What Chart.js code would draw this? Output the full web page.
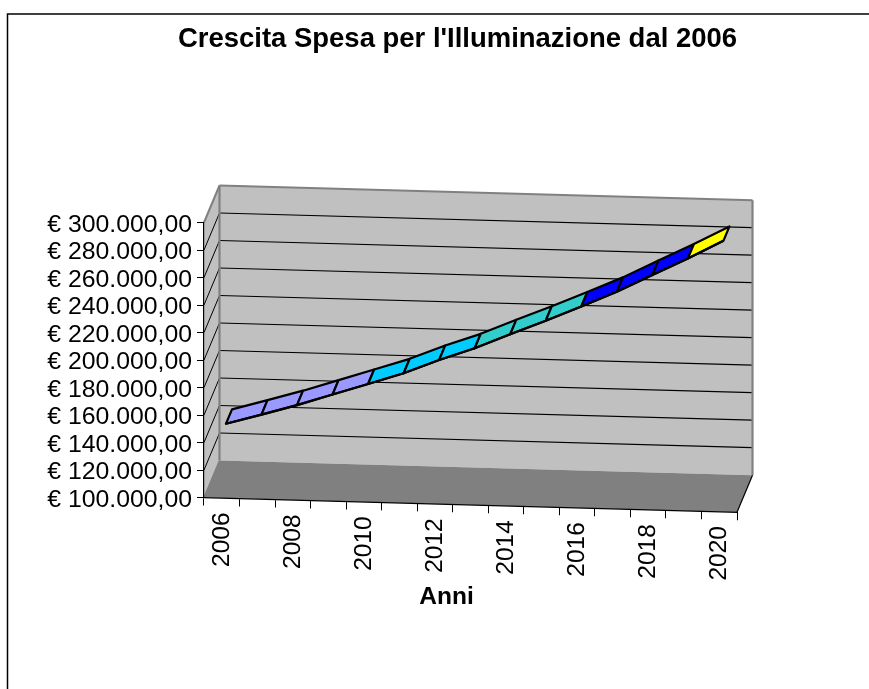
<!DOCTYPE html>
<html>
<head>
<meta charset="utf-8">
<style>html,body{margin:0;padding:0;background:#fff;overflow:hidden}canvas{display:block}</style>
<script src="https://cdn.jsdelivr.net/npm/chart.js@4"></script>
</head>
<body>
<canvas id="c" width="869" height="689"></canvas>
<script>
const categories = ['2006','2007','2008','2009','2010','2011','2012','2013','2014','2015','2016','2017','2018','2019','2020'];
const spesa = [146700,154100,161700,170100,178500,187000,197400,206600,217500,228100,239100,250500,263400,276200,289700];
const segmentColors = ['#9999FF','#9999FF','#9999FF','#9999FF','#00CCFF','#00CCFF','#00CCFF','#33CCCC','#33CCCC','#33CCCC','#0000FF','#0000FF','#0000FF','#FFFF00'];
const yMin = 100000, yMax = 300000, yStep = 20000;
const titleText = "Crescita Spesa per l'Illuminazione dal 2006";
const xTitleText = 'Anni';

// oblique projection used by the 3D look
const SKEW = 0.0275, DEPTH_X = 15.5, DEPTH_Y = -37;
const RIBBON_FRONT = 0.27, RIBBON_BACK = 0.66;

function euro(v){
  const s = String(Math.round(v)).replace(/\B(?=(\d{3})+$)/g,'.');
  return '€ ' + s + ',00';
}

class SkewCategoryScale extends Chart.CategoryScale {
  _layers(){
    const self = this;
    return super._layers().map(l => ({
      z: l.z,
      draw(area){
        const c = self.ctx;
        c.save();
        c.transform(1, SKEW, 0, 1, 0, -SKEW * self.left);
        l.draw(area);
        c.restore();
      }
    }));
  }
  drawTitle(){
    const c = this.ctx;
    c.save();
    c.setTransform(1,0,0,1,-24,0);
    super.drawTitle();
    c.restore();
  }
}
SkewCategoryScale.id = 'skewCategory';
SkewCategoryScale.defaults = {};
Chart.register(SkewCategoryScale);

function poly(c, pts, fill, stroke, lw){
  c.beginPath();
  pts.forEach((p,i)=> i ? c.lineTo(p[0],p[1]) : c.moveTo(p[0],p[1]));
  c.closePath();
  if (fill){ c.fillStyle = fill; c.fill(); }
  if (stroke){ c.strokeStyle = stroke; c.lineWidth = lw; c.lineJoin='round'; c.stroke(); }
}
function line(c, a, b, stroke, lw){
  c.beginPath(); c.moveTo(a[0],a[1]); c.lineTo(b[0],b[1]);
  c.strokeStyle = stroke; c.lineWidth = lw; c.stroke();
}

const walls = {
  id: 'walls',
  beforeDraw(chart){
    const c = chart.ctx, a = chart.chartArea, ys = chart.scales.y;
    const sk = x => SKEW * (x - a.left);
    const FL = [a.left, a.bottom], FR = [a.right, a.bottom + sk(a.right)];
    const BL = [a.left + DEPTH_X, a.bottom + DEPTH_Y];
    const BR = [a.right + DEPTH_X, FR[1] + DEPTH_Y];
    const TL = [a.left + DEPTH_X, a.top + DEPTH_Y];
    const TR = [a.right + DEPTH_X, a.top + sk(a.right) + DEPTH_Y];
    const SL = [a.left, a.top];
    c.save();
    // outer frame
    c.strokeStyle = '#000'; c.lineWidth = 1.5;
    c.beginPath(); c.moveTo(7.5, chart.height); c.lineTo(7.5, 14); c.lineTo(chart.width, 14); c.stroke();
    // side wall, back wall, floor
    poly(c, [SL, TL, BL, FL], '#C0C0C0');
    poly(c, [TL, TR, BR, BL], '#C0C0C0');
    poly(c, [FL, BL, BR, FR], '#808080');
    // gridlines
    ys.ticks.forEach((t,i)=>{
      if (t.value === yMin || t.value === yMax) return;
      const y = ys.getPixelForTick(i);
      line(c, [a.left, y], [a.left + DEPTH_X, y + DEPTH_Y], '#000', 1);
      line(c, [a.left + DEPTH_X, y + DEPTH_Y], [a.right + DEPTH_X, y + DEPTH_Y + sk(a.right)], '#000', 1.2);
    });
    // wall edges
    line(c, SL, TL, '#808080', 2);
    line(c, TL, TR, '#808080', 2);
    line(c, TR, BR, '#808080', 2.2);
    line(c, TL, BL, '#808080', 2.2);
    line(c, FL, BL, '#808080', 1.5);
    line(c, FR, BR, '#000', 1.2);
    c.restore();
  },
  beforeDatasetsDraw(chart){
    const c = chart.ctx, a = chart.chartArea;
    const pts = chart.getDatasetMeta(0).data;
    const P = (pt, f) => [pt.x + f*DEPTH_X, pt.y + SKEW*(pt.x - a.left) + f*DEPTH_Y];
    c.save();
    for (let i = 0; i < pts.length - 1; i++){
      poly(c, [P(pts[i],RIBBON_FRONT), P(pts[i],RIBBON_BACK), P(pts[i+1],RIBBON_BACK), P(pts[i+1],RIBBON_FRONT)],
           segmentColors[i], '#000', 2.2);
    }
    c.restore();
  },
  beforeDatasetDraw(chart){
    const c = chart.ctx, a = chart.chartArea;
    c.save();
    c.transform(1, SKEW, 0, 1, RIBBON_FRONT*DEPTH_X, -SKEW*a.left + RIBBON_FRONT*DEPTH_Y);
  },
  afterDatasetDraw(chart){ chart.ctx.restore(); }
};

new Chart(document.getElementById('c'), {
  type: 'line',
  data: {
    labels: categories,
    datasets: [{
      label: 'Spesa',
      data: spesa,
      borderColor: '#000',
      borderWidth: 2.2,
      pointRadius: 0,
      tension: 0,
      fill: false,
      clip: false
    }]
  },
  options: {
    responsive: false,
    animation: false,
    devicePixelRatio: 1,
    layout: { padding: { left: 178, right: 132, top: 0, bottom: 77.5 } },
    plugins: {
      legend: { display: false },
      tooltip: { enabled: false },
      title: {
        display: true,
        text: titleText,
        color: '#000',
        font: { family: '"Liberation Sans", Arial, sans-serif', size: 28.5, weight: 'bold', lineHeight: 1.2 },
        padding: { top: 21.9, bottom: 166.4 }
      }
    },
    scales: {
      x: {
        type: 'skewCategory',
        axis: 'x',
        offset: true,
        afterFit(s){ s.height = 114; },
        grid: { display: true, drawOnChartArea: false, offset: true, tickLength: 8, color: '#000', lineWidth: 1 },
        border: { display: true, color: '#000', width: 1.2 },
        ticks: {
          autoSkip: false, maxRotation: 90, minRotation: 90, padding: 6.5, color: '#000',
          font: { family: '"Liberation Sans", Arial, sans-serif', size: 24.5 },
          callback(v, i){ return i % 2 ? '' : categories[i]; }
        },
        title: {
          display: true, text: xTitleText, color: '#000',
          font: { family: '"Liberation Sans", Arial, sans-serif', size: 24.5, weight: 'bold' },
          padding: { top: 0, bottom: 0 }
        }
      },
      y: {
        min: yMin, max: yMax,
        afterFit(s){
          s.width = 26;
          s._computeLabelArea = () => undefined;
          const proto = Object.getPrototypeOf(s);
          s.drawLabels = function(area){
            const c = s.ctx;
            c.save();
            c.translate(0, 2.5);
            proto.drawLabels.call(s, area);
            c.restore();
          };
        },
        grid: { display: true, drawOnChartArea: false, tickLength: 7, color: '#000', lineWidth: 1 },
        border: { display: true, color: '#000', width: 1.2 },
        ticks: {
          stepSize: yStep, autoSkip: false, padding: 5, color: '#000',
          font: { family: '"Liberation Sans", Arial, sans-serif', size: 24.8 },
          callback: v => euro(v)
        }
      }
    }
  },
  plugins: [walls]
});
</script>
</body>
</html>
